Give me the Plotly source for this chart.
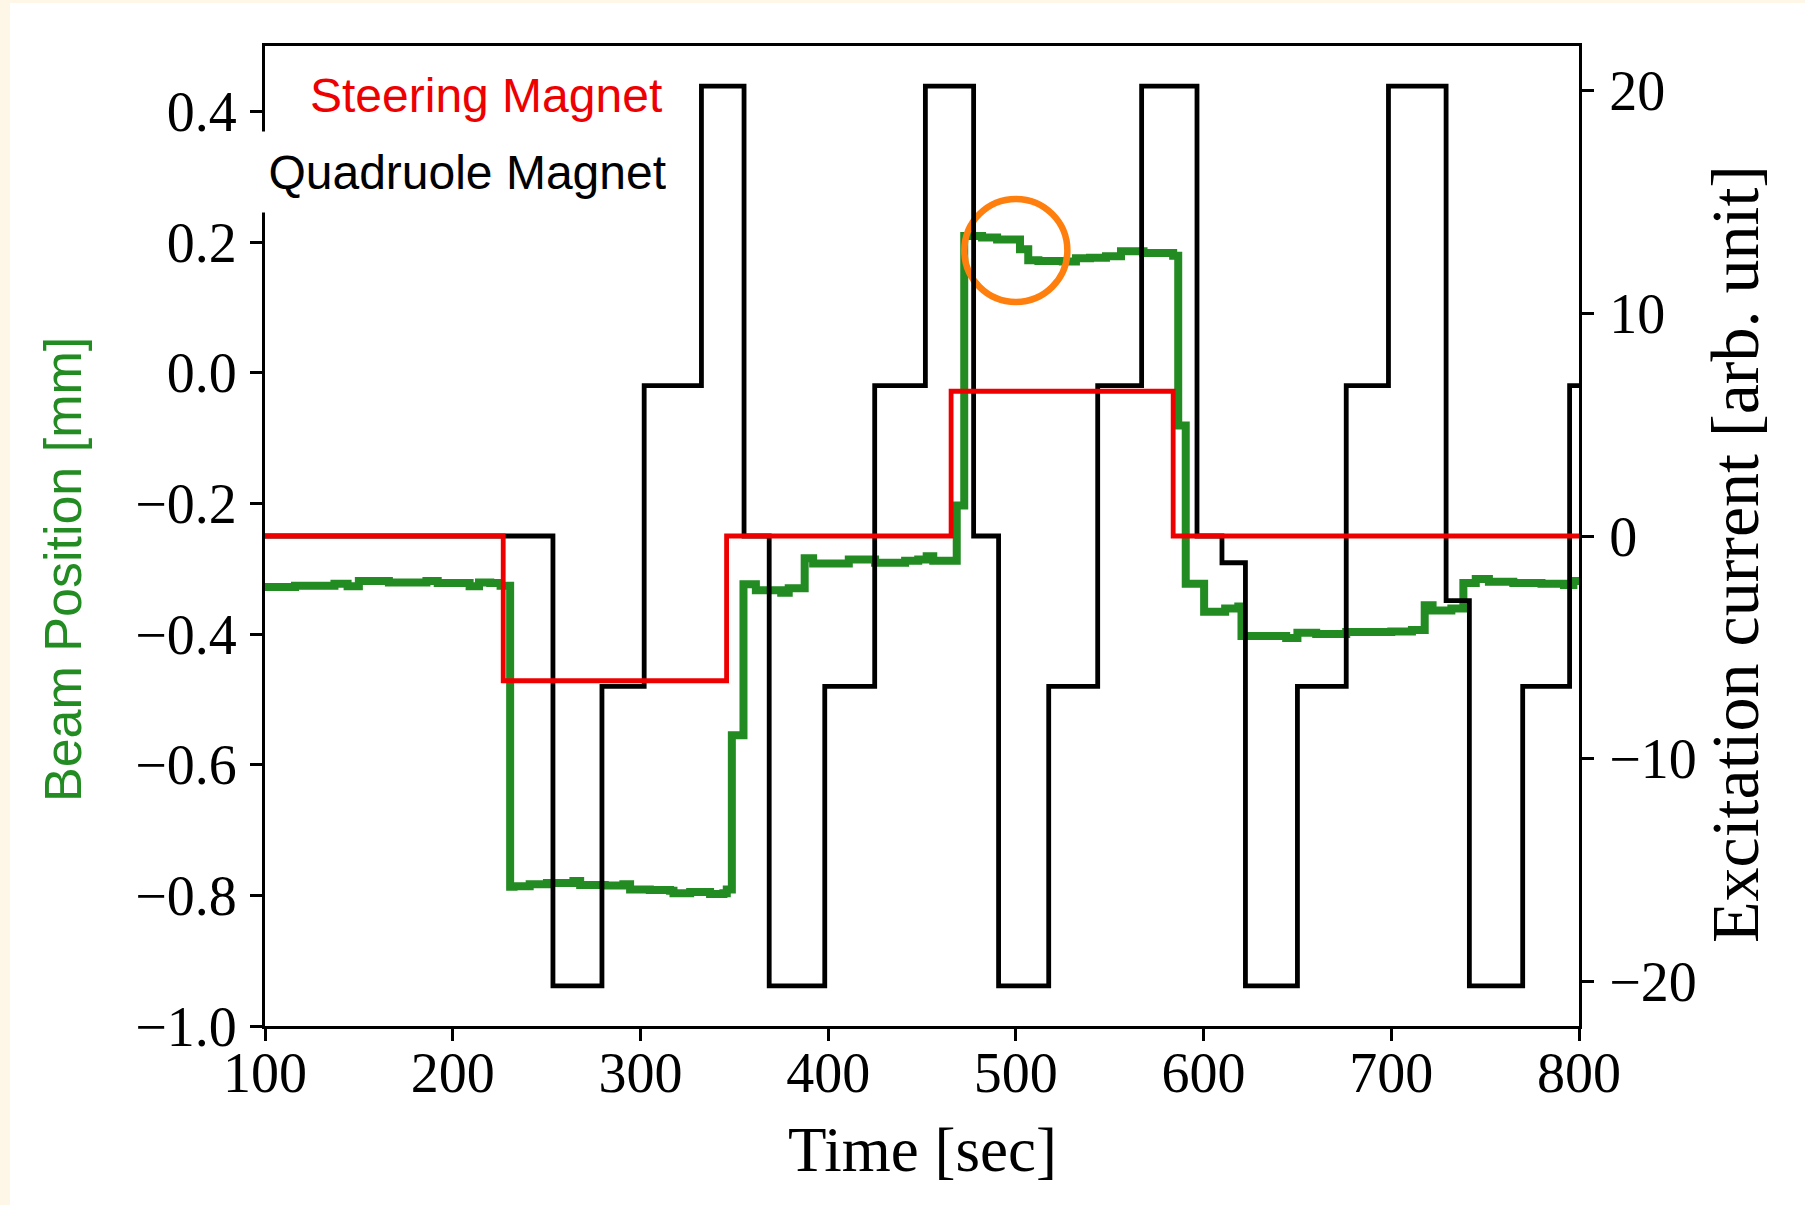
import plotly.graph_objects as go

# ---------------- data ----------------
x_ticks = [100, 200, 300, 400, 500, 600, 700, 800]
y1_ticks = [-1.0, -0.8, -0.6, -0.4, -0.2, 0.0, 0.2, 0.4]
y2_ticks = [-20, -10, 0, 10, 20]

# Quadrupole magnet excitation current (step changes), right axis
quad_t = [100, 253.4, 279.5, 302.0, 332.5, 355.2, 368.6, 398.2, 424.8, 451.8,
          477.5, 490.8, 517.5, 543.6, 567.0, 596.5, 609.8, 622.3, 650.0, 676.0,
          698.5, 729.2, 741.6, 770.0, 795.0, 800]
quad_v = [0, -20.2, -6.75, 6.75, 20.2, 0, -20.2, -6.75, 6.75, 20.2,
          0, -20.2, -6.75, 6.75, 20.2, 0, -1.2, -20.2, -6.75, 6.75,
          20.2, -2.9, -20.2, -6.75, 6.75, 6.75]

# Steering magnet excitation current, right axis
steer_t = [100, 226.9, 345.9, 465.5, 583.8, 800]
steer_v = [0, -6.5, 0, 6.5, 0, 0]

# Beam position [mm], left axis
beam_t = [100, 116, 137, 144, 150, 166, 186, 192, 209, 214, 220, 225.5,
          230.6, 232.4, 241, 250.2, 258, 264.3, 267.9, 281, 290.9, 294.5,
          305, 315.8, 317.6, 326.5, 337.1, 344.2, 346, 348.7, 354.9, 361.5,
          375, 379, 387.5, 392, 411, 425, 441, 448, 452.5, 456, 468.5,
          472.5, 482, 490, 502.2, 506.6, 512, 525, 532, 539.5, 548, 556,
          568, 578, 583.8, 586.5, 590.5, 600.3, 611.5, 618.5, 620.2, 644,
          650, 660, 676, 700, 711, 717.8, 722, 732, 738.4, 745, 752, 765,
          780, 792, 797, 800]
beam_v = [-0.328, -0.326, -0.323, -0.327, -0.319, -0.321, -0.319, -0.322,
          -0.327, -0.321, -0.322, -0.326,
          -0.787, -0.786, -0.783, -0.781, -0.781, -0.778, -0.784, -0.785,
          -0.783, -0.791, -0.792, -0.793, -0.797, -0.795, -0.798, -0.797,
          -0.791, -0.555, -0.324, -0.333, -0.337, -0.330, -0.284, -0.292,
          -0.286, -0.291, -0.288, -0.286, -0.281, -0.288, -0.2035,
          0.209, 0.207, 0.204, 0.189, 0.172, 0.171, 0.170, 0.175, 0.176,
          0.178, 0.186, 0.183, 0.183, 0.179, -0.081, -0.323, -0.366,
          -0.361, -0.358, -0.403, -0.406, -0.398, -0.400, -0.397, -0.396,
          -0.394, -0.356, -0.364, -0.361, -0.322, -0.316, -0.320, -0.322,
          -0.323, -0.325, -0.319, -0.319]

# highlighted point
mark_t = [500]
mark_v = [0.187]


def fmt(v, d):
    s = f"{abs(v):.{d}f}"
    return ("\u2212" + s) if v < 0 else s


# ---------------- layout geometry (pixels) ----------------
W, H = 1805, 1205
PL, PR, PT, PB = 265, 1579, 46, 1026


def px(xp):
    return (xp - PL) / (PR - PL)


def py(yp):
    return (PB - yp) / (PB - PT)


SERIF = "Liberation Serif"
SANS = "Liberation Sans"

fig = go.Figure()

fig.add_trace(go.Scatter(x=beam_t, y=beam_v, mode="lines", line_shape="hv",
                         line=dict(color="#228B22", width=8), yaxis="y",
                         showlegend=False))
fig.add_trace(go.Scatter(x=mark_t, y=mark_v, mode="markers", yaxis="y",
                         marker=dict(symbol="circle-open", size=103,
                                     color="#FF7F0E",
                                     line=dict(width=6.5, color="#FF7F0E")),
                         showlegend=False))
fig.add_trace(go.Scatter(x=quad_t, y=quad_v, mode="lines", line_shape="hv",
                         line=dict(color="black", width=4.8), yaxis="y2",
                         showlegend=False))
fig.add_trace(go.Scatter(x=steer_t, y=steer_v, mode="lines", line_shape="hv",
                         line=dict(color="#EE0000", width=4.8), yaxis="y2",
                         showlegend=False))

axis_common = dict(showgrid=False, zeroline=False, showline=True,
                   linecolor="black", linewidth=3, ticks="outside",
                   ticklen=12, tickwidth=2.5, tickcolor="black",
                   tickfont=dict(family=SERIF, size=56, color="black"))

fig.update_layout(
    width=W, height=H, autosize=False,
    margin=dict(l=PL, r=W - PR, t=PT, b=H - PB, pad=0),
    paper_bgcolor="white", plot_bgcolor="white",
    xaxis=dict(range=[100, 800], tickvals=x_ticks,
               ticktext=[fmt(v, 0) for v in x_ticks], mirror=True,
               ticklabelstandoff=-16, **axis_common),
    yaxis=dict(range=[-1.0, 0.5], tickvals=y1_ticks,
               ticktext=[fmt(v, 1) for v in y1_ticks],
               ticklabelstandoff=2, **axis_common),
    yaxis2=dict(range=[-22, 22], tickvals=y2_ticks,
                ticktext=[fmt(v, 0) for v in y2_ticks],
                overlaying="y", side="right", ticklabelstandoff=4,
                **axis_common),
    shapes=[
        dict(type="rect", xref="paper", yref="paper", layer="below",
             x0=px(0), x1=px(10), y0=py(H), y1=py(0),
             fillcolor="#FEF7E7", line=dict(width=0)),
        dict(type="rect", xref="paper", yref="paper", layer="below",
             x0=px(0), x1=px(W), y0=py(3), y1=py(0),
             fillcolor="#FEF7E7", line=dict(width=0)),
    ],
    annotations=[
        dict(text="Steering Magnet", xref="paper", yref="paper",
             x=px(664), y=py(96), xanchor="right", yanchor="middle",
             showarrow=False, font=dict(family=SANS, size=48, color="#EE0000")),
        dict(text="Quadruole Magnet", xref="paper", yref="paper",
             x=px(672), y=py(172), xanchor="right", yanchor="middle",
             showarrow=False, bgcolor="white", borderpad=5,
             width=410, height=70, align="right",
             font=dict(family=SANS, size=48, color="black")),
        dict(text="Beam Position [mm]", xref="paper", yref="paper",
             x=px(63), y=py(570), xanchor="center", yanchor="middle",
             textangle=-90, showarrow=False,
             font=dict(family=SANS, size=52, color="#228B22")),
        dict(text="Excitation current [arb. unit]", xref="paper", yref="paper",
             x=px(1735), y=py(554), xanchor="center", yanchor="middle",
             textangle=-90, showarrow=False,
             font=dict(family=SERIF, size=68, color="black")),
        dict(text="Time [sec]", xref="paper", yref="paper",
             x=px(922), y=py(1150), xanchor="center", yanchor="middle",
             showarrow=False,
             font=dict(family=SERIF, size=63, color="black")),
    ],
)

fig.write_html("out.html")
